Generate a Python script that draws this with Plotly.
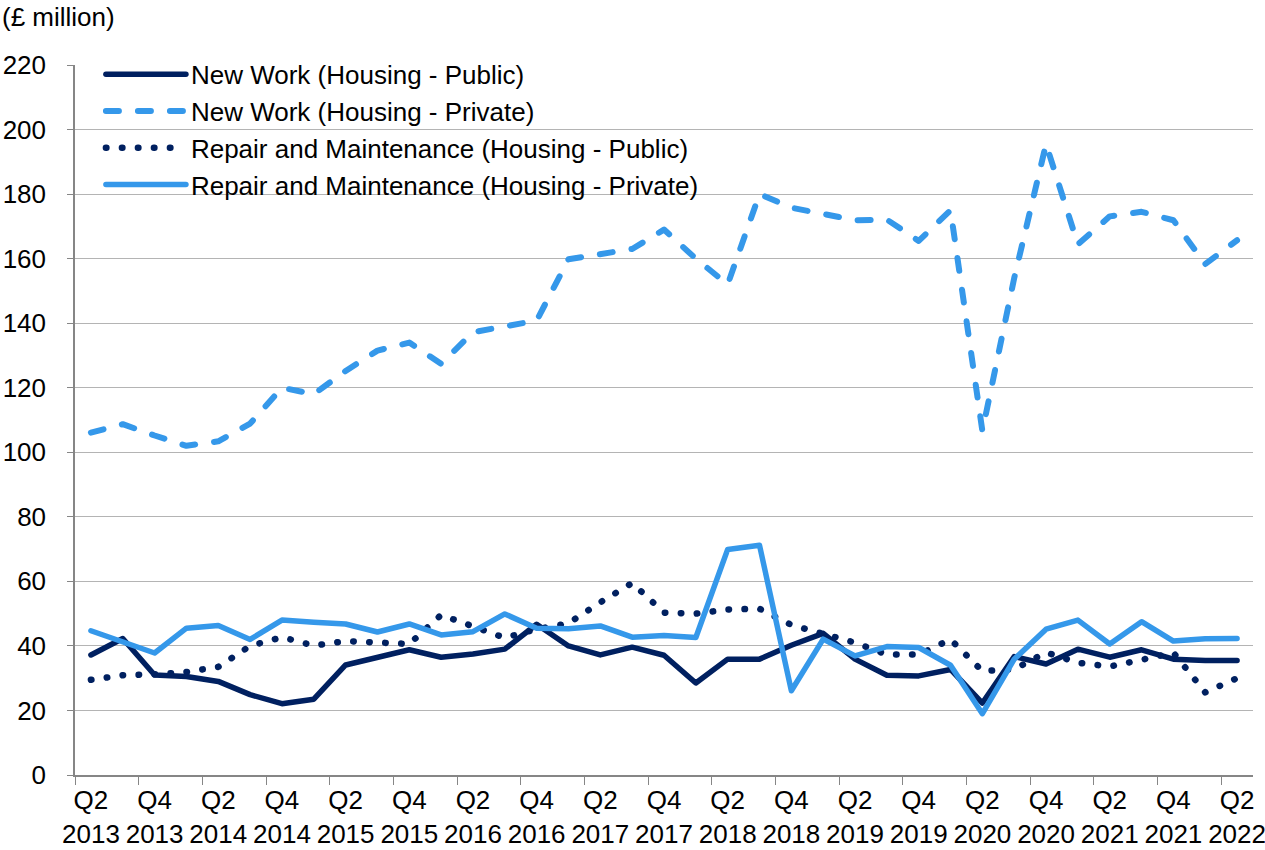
import plotly.graph_objects as go

quarters = [
    "Q2<br>2013", "Q3<br>2013", "Q4<br>2013", "Q1<br>2014", "Q2<br>2014", "Q3<br>2014", "Q4<br>2014",
    "Q1<br>2015", "Q2<br>2015", "Q3<br>2015", "Q4<br>2015", "Q1<br>2016", "Q2<br>2016", "Q3<br>2016",
    "Q4<br>2016", "Q1<br>2017", "Q2<br>2017", "Q3<br>2017", "Q4<br>2017", "Q1<br>2018", "Q2<br>2018",
    "Q3<br>2018", "Q4<br>2018", "Q1<br>2019", "Q2<br>2019", "Q3<br>2019", "Q4<br>2019", "Q1<br>2020",
    "Q2<br>2020", "Q3<br>2020", "Q4<br>2020", "Q1<br>2021", "Q2<br>2021", "Q3<br>2021", "Q4<br>2021",
    "Q1<br>2022", "Q2<br>2022",
]

new_work_public = [37.2, 42.3, 31.0, 30.5, 29.0, 24.9, 22.1, 23.5, 34.1, 36.4, 38.8, 36.5, 37.5,
                   39.0, 46.7, 40.0, 37.2, 39.6, 37.1, 28.5, 35.9, 35.9, 40.2, 43.9, 35.9, 30.9,
                   30.7, 32.7, 22.3, 36.7, 34.4, 39.0, 36.5, 38.8, 35.9, 35.5, 35.5]

new_work_private = [106.1, 108.7, 105.2, 102.0, 103.4, 108.9, 120.0, 118.0, 125.2, 131.5, 134.0,
                    127.4, 137.2, 138.8, 140.8, 159.8, 161.4, 163.0, 169.0, 160.0, 152.0, 180.0,
                    175.8, 174.0, 171.9, 172.1, 165.5, 175.0, 106.6, 154.0, 195.5, 164.4, 173.1,
                    174.5, 171.9, 158.3, 165.7]

rm_public = [29.5, 30.9, 31.2, 31.9, 33.5, 40.0, 42.7, 40.1, 41.5, 40.8, 40.6, 49.6, 46.0, 42.5,
             45.2, 47.0, 53.5, 59.5, 50.3, 50.0, 51.3, 51.5, 46.5, 43.5, 41.0, 37.3, 37.3, 42.0,
             32.2, 32.8, 38.0, 34.8, 33.6, 35.7, 37.9, 25.6, 30.0]

rm_private = [44.7, 41.3, 37.8, 45.5, 46.3, 42.0, 48.0, 47.3, 46.8, 44.3, 46.8, 43.4, 44.4, 49.9,
              45.5, 45.3, 46.2, 42.7, 43.2, 42.6, 69.9, 71.2, 26.1, 42.1, 36.9, 39.8, 39.5, 34.0,
              19.0, 35.9, 45.2, 48.0, 40.6, 47.5, 41.5, 42.2, 42.3]

series_names = [
    "New Work (Housing - Public)",
    "New Work (Housing - Private)",
    "Repair and Maintenance (Housing - Public)",
    "Repair and Maintenance (Housing - Private)",
]

DARK = "#002060"
LIGHT = "#3598EA"
FONT = "Arial, Liberation Sans, sans-serif"
FS = 26

fig = go.Figure()
styles = [
    (new_work_public, DARK, "solid", 5.5),
    (new_work_private, LIGHT, "13px,19px", 6),
    (rm_public, DARK, "0.5px,15.5px", 6.5),
    (rm_private, LIGHT, "solid", 5.5),
]
for name, (vals, color, dash, width) in zip(series_names, styles):
    fig.add_trace(go.Scatter(
        x=quarters, y=vals, name=name, mode="lines",
        line=dict(color=color, dash=dash, width=width),
    ))

fig.update_layout(
    width=1265, height=850,
    margin=dict(l=75, r=12, t=65, b=75, autoexpand=False),
    paper_bgcolor="white", plot_bgcolor="white",
    font=dict(family=FONT, size=FS, color="#000000"),
    showlegend=True,
    legend=dict(x=0.022, y=1.02, xanchor="left", yanchor="top",
                bgcolor="rgba(0,0,0,0)", font=dict(family=FONT, size=FS, color="#000000"),
                itemwidth=80, tracegroupgap=0),
    hovermode=False,
    annotations=[dict(text="(£ million)", xref="paper", yref="paper",
                      x=-75 / 1178, y=1 + (65 - 17) / 710, xanchor="left", yanchor="middle",
                      showarrow=False, font=dict(family=FONT, size=FS, color="#000000"))],
)
fig.update_xaxes(
    type="category", range=[-0.5, 36.5], tickmode="linear", tick0=0, dtick=2,
    tickson="boundaries", ticks="outside", ticklen=8, tickcolor="#868686",
    showline=True, linecolor="#868686", linewidth=1.5, showgrid=False,
    tickangle=0, automargin=False, ticklabelstandoff=1,
    tickfont=dict(family=FONT, size=FS, color="#000000"),
)
fig.update_yaxes(
    range=[0, 220], dtick=20, tick0=0, ticks="outside", ticklen=6, tickcolor="#868686",
    showline=True, linecolor="#868686", linewidth=1.5, automargin=False,
    showgrid=True, gridcolor="#b4b4b4", gridwidth=1, zeroline=False,
    tickfont=dict(family=FONT, size=FS, color="#000000"),
    ticklabelstandoff=16,
)

post = """
document.body.style.margin = '0';
document.body.style.overflow = 'hidden';
var s = document.createElement('style');
s.innerHTML = '.js-line{stroke-linecap:round;stroke-linejoin:round;}';
document.head.appendChild(s);
"""
fig.write_html("out.html", post_script=post, config={"displayModeBar": False})
